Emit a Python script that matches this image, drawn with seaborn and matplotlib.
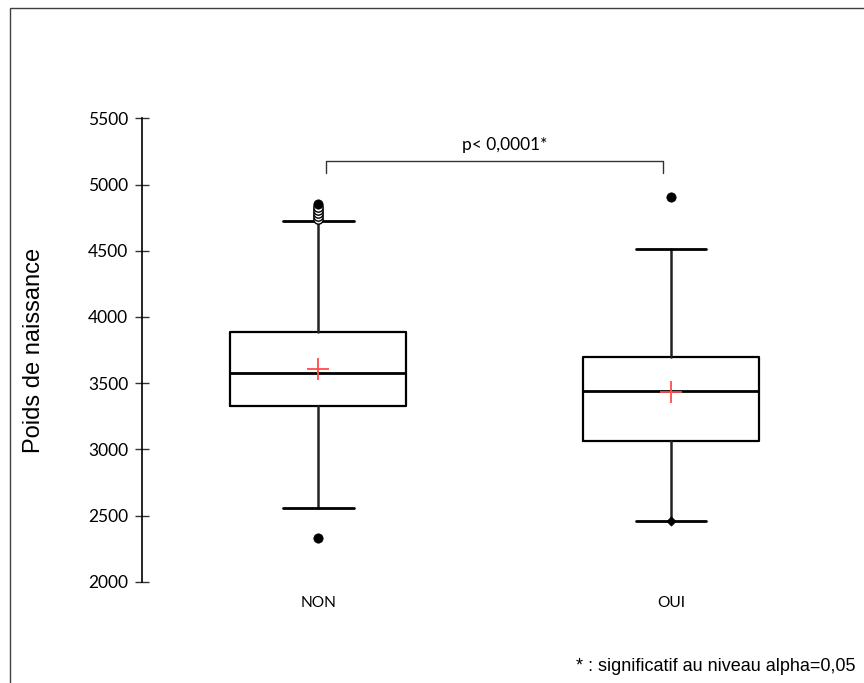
import numpy as np
import pandas as pd
import matplotlib
matplotlib.use("Agg")
import matplotlib.pyplot as plt
from matplotlib.patches import Rectangle
import seaborn as sns

# ---- data ----
categories = ["NON", "OUI"]
q1 = [3329, 3063]
medians = [3574, 3443]
q3 = [3888, 3699]
whisk_low = [2559, 2458]
whisk_high = [4724, 4513]
means = [3604, 3431]
# extreme values (filled) and outliers (open)
extreme_cat = ["NON", "NON", "OUI", "OUI"]
extreme_val = [2332, 4853, 4903, 2458]
outlier_cat = ["NON", "NON", "NON", "NON", "NON"]
outlier_val = [4738, 4762, 4786, 4810, 4830]
yticks = [2000, 2500, 3000, 3500, 4000, 4500, 5000, 5500]
ylabel = "Poids de naissance"
pvalue_text = "p< 0,0001*"
footnote = "* : significatif au niveau alpha=0,05"

sns.set_theme(style="white")
plt.rcParams["font.family"] = ["Lato", "DejaVu Sans"]
plt.rcParams["text.color"] = "black"
plt.rcParams["axes.labelcolor"] = "black"
plt.rcParams["xtick.color"] = "black"
plt.rcParams["ytick.color"] = "black"

fig = plt.figure(figsize=(8.64, 6.83), dpi=100)
ax = fig.add_axes([142 / 864, 1 - 581.7 / 683, (847 - 142) / 864, (581.7 - 118.3) / 683])

pos = {c: i for i, c in enumerate(categories)}
stats = []
for i, c in enumerate(categories):
    stats.append(dict(label=c, med=medians[i], q1=q1[i], q3=q3[i],
                      whislo=whisk_low[i], whishi=whisk_high[i], fliers=[]))

ax.bxp(stats, positions=list(range(len(categories))), widths=0.5, capwidths=0.2,
       showfliers=False, patch_artist=False,
       boxprops=dict(color="black", linewidth=1.6),
       medianprops=dict(color="black", linewidth=2.0),
       whiskerprops=dict(color="#222222", linewidth=1.8),
       capprops=dict(color="black", linewidth=2.0))

# outliers (open circles)
df_out = pd.DataFrame({"x": [pos[c] for c in outlier_cat], "y": outlier_val})
sns.scatterplot(data=df_out, x="x", y="y", ax=ax, marker="o", s=45,
                facecolor="white", edgecolor="black", linewidth=1.0, zorder=4)
# extremes (filled)
ext_x = [pos[c] for c in extreme_cat]
df_ext = pd.DataFrame({"x": ext_x[:3], "y": extreme_val[:3]})
sns.scatterplot(data=df_ext, x="x", y="y", ax=ax, marker="o", s=45,
                color="black", edgecolor="black", linewidth=0.5, zorder=5)
df_ext2 = pd.DataFrame({"x": ext_x[3:], "y": extreme_val[3:]})
sns.scatterplot(data=df_ext2, x="x", y="y", ax=ax, marker="D", s=22,
                color="black", edgecolor="black", linewidth=0.5, zorder=5)
# means
df_mean = pd.DataFrame({"x": list(range(len(categories))), "y": means})
sns.scatterplot(data=df_mean, x="x", y="y", ax=ax, marker="+", s=230,
                color="#ff4d4d", linewidth=1.3, zorder=6)

ax.set_xlim(-0.5, 1.5)
ax.set_ylim(2000, 5500)
ax.set_yticks(yticks)
ax.set_yticklabels([str(v) for v in yticks], fontsize=12.5, color="black")
ax.set_xticks(range(len(categories)))
ax.set_xticklabels(categories, fontsize=11.2, color="black")
ax.set_xlabel("")
ax.set_ylabel(ylabel, fontsize=17, color="black", family=["Liberation Sans", "DejaVu Sans"])
ax.yaxis.set_label_coords(-0.1375, 0.5)

for s in ["top", "right", "bottom"]:
    ax.spines[s].set_visible(False)
ax.spines["left"].set_color("black")
ax.spines["left"].set_linewidth(1.2)
ax.tick_params(axis="y", direction="inout", length=10, width=1.0, color="#333333",
               pad=5, left=True)
ax.tick_params(axis="x", length=0, pad=10)
ax.set_facecolor("white")

# significance bracket
xa, xb = 0.023, 0.977
ytop, ybot = 5180, 5090
ax.plot([xa, xa, xb, xb], [ybot, ytop, ytop, ybot], color="#333333", lw=1.0, clip_on=False)
ax.text((xa + xb) / 2 + 0.03, 5295, pvalue_text, ha="center", va="center", fontsize=12.5,
        color="black")

# footnote
fig.text(855 / 864, 1 - 666.7 / 683, footnote, ha="right", va="center", fontsize=13,
         color="black", family=["Liberation Sans", "DejaVu Sans"])

# outer frame
fig.patches.append(Rectangle((10 / 864, -0.05), 1.0, 1 - 8 / 683 + 0.05,
                             transform=fig.transFigure, fill=False,
                             edgecolor="#404040", linewidth=1.0))

fig.savefig("out.png", dpi=100, facecolor="white")
